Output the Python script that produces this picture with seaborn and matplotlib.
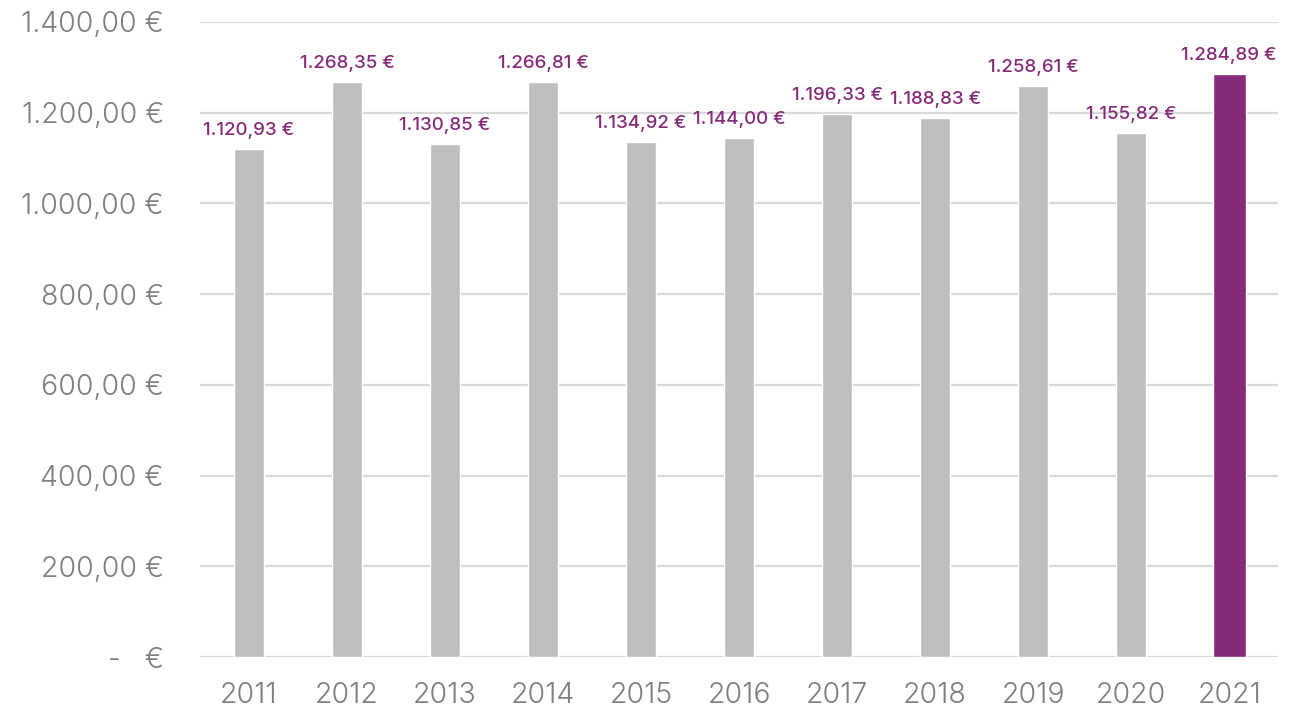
import matplotlib
matplotlib.use("Agg")
import matplotlib.pyplot as plt
import seaborn as sns
import pandas as pd

years = ["2011", "2012", "2013", "2014", "2015", "2016", "2017", "2018", "2019", "2020", "2021"]
values = [1120.93, 1268.35, 1130.85, 1266.81, 1134.92, 1144.00, 1196.33, 1188.83, 1258.61, 1155.82, 1284.89]
y_ticks = [0, 200, 400, 600, 800, 1000, 1200, 1400]

GRAY = "#bfbfbf"
PURPLE = "#862a7a"
TEXT_GRAY = "#7f7f7f"


def euro(v):
    if v == 0:
        return "-   €"
    s = f"{v:,.2f}"
    s = s.replace(",", "X").replace(".", ",").replace("X", ".")
    return s + " €"


sns.set_theme(style="white")
plt.rcParams["font.family"] = ["Inter", "DejaVu Sans"]

df = pd.DataFrame({"year": years, "value": values})
colors = [GRAY] * (len(years) - 1) + [PURPLE]

fig = plt.figure(figsize=(12.99, 7.12), dpi=100)
ax = fig.add_axes([0.154, 0.0772, 0.830, 0.892])

sns.barplot(data=df, x="year", y="value", hue="year", palette=colors,
            saturation=1, legend=False, width=0.31, ax=ax, zorder=3)

# highlight the latest year with a slightly wider bar
last = ax.patches[-1]
cx = last.get_x() + last.get_width() / 2
last.set_width(0.34)
last.set_x(cx - 0.17)

for i, v in enumerate(values):
    ax.text(i, v + 22, euro(v), ha="center", va="bottom",
            fontsize=13.5, fontweight=500, color=PURPLE, zorder=4)

ax.set_ylim(0, 1400)
ax.set_xlim(-0.5, len(years) - 0.5)
ax.set_yticks(y_ticks)
ax.set_yticklabels([euro(t) for t in y_ticks], fontweight=300)
ax.yaxis.grid(True, color="#d9d9d9", linewidth=1.6, zorder=0)
ax.set_axisbelow(True)
for s in ax.spines.values():
    s.set_visible(False)
ax.tick_params(axis="y", length=0, pad=26, labelsize=20.5, labelcolor=TEXT_GRAY)
ax.tick_params(axis="x", length=0, pad=18, labelsize=20.5, labelcolor=TEXT_GRAY)
for lbl in ax.get_xticklabels():
    lbl.set_fontweight(300)
ax.set_xlabel("")
ax.set_ylabel("")

fig.savefig("out.png", dpi=100)
